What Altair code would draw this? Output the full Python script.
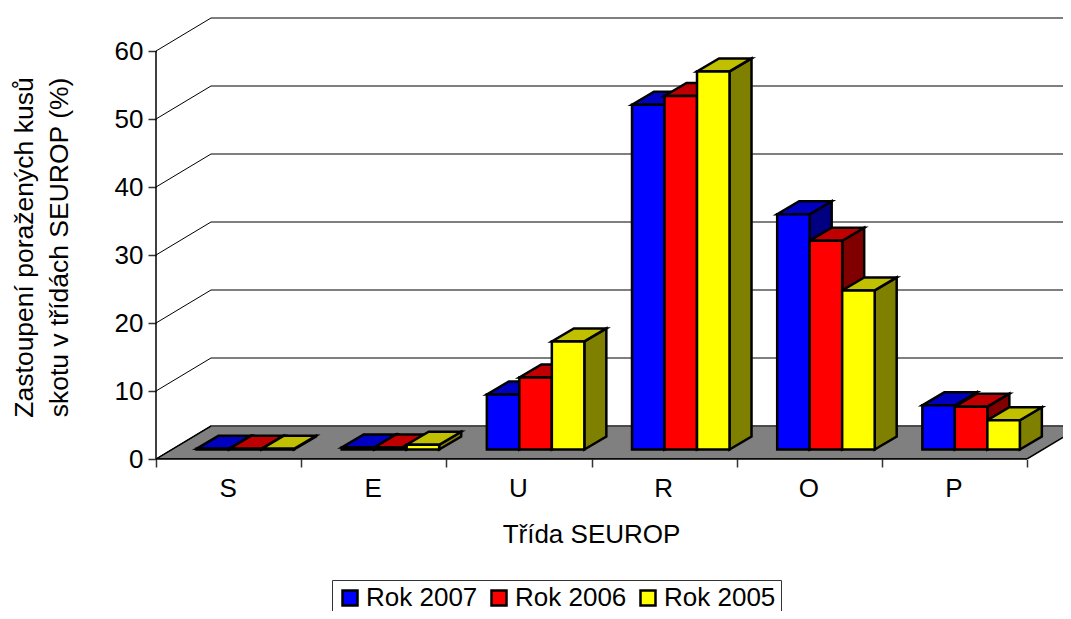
import altair as alt
import pandas as pd

categories = ["S", "E", "U", "R", "O", "P"]
series = ["Rok 2007", "Rok 2006", "Rok 2005"]
rok_2007 = [0.1, 0.3, 8.1, 50.7, 34.6, 6.5]
rok_2006 = [0.1, 0.3, 10.6, 52.0, 30.7, 6.3]
rok_2005 = [0.1, 0.7, 15.9, 55.6, 23.4, 4.3]
front_colors = ["#0000ff", "#ff0000", "#ffff00"]
top_colors = ["#0000c0", "#c00000", "#c0c000"]
side_colors = ["#000080", "#800000", "#808000"]
y_ticks = [0, 10, 20, 30, 40, 50, 60]

# projection, in scale units
PX_X = 145.17
PX_Y = 6.8
WIDTH, HEIGHT = 907, 442
XMAX = WIDTH / PX_X
YMAX = HEIGHT / PX_Y
WALL_DX, WALL_DY = 55 / PX_X, 33 / PX_Y
BAR_START, BAR_W = 40.5 / PX_X, 32.5 / PX_X
BAR_DX, BAR_DY = 22 / PX_X, 13 / PX_Y
BASE = 9.5 / PX_Y
FONT = "Liberation Sans"
FS = 26

fronts, tops, sides = [], [], []
for s, (name, vals) in enumerate(zip(series, [rok_2007, rok_2006, rok_2005])):
    for c, v in enumerate(vals):
        x0 = c + BAR_START + s * BAR_W
        x1 = x0 + BAR_W
        top = BASE + v
        fronts.append(dict(series=name, x0=x0, x1=x1, y0=BASE, y1=top))
        fid = f"{s}-{c}"
        for x, lo, hi in [
            (x0, top, top),
            (x0 + BAR_DX, top, top + BAR_DY),
            (x1, top, top + BAR_DY),
            (x1 + BAR_DX, top + BAR_DY, top + BAR_DY),
        ]:
            tops.append(dict(id=fid, x=x, lo=lo, hi=hi, color=top_colors[s]))
        for x, lo, hi in [
            (x1, BASE, top),
            (x1 + BAR_DX, BASE + BAR_DY, top + BAR_DY),
        ]:
            sides.append(dict(id=fid, x=x, lo=lo, hi=hi, color=side_colors[s]))

floor = pd.DataFrame(
    [
        dict(x=0, lo=0, hi=0),
        dict(x=WALL_DX, lo=0, hi=WALL_DY),
        dict(x=6, lo=0, hi=WALL_DY),
        dict(x=6 + WALL_DX, lo=WALL_DY, hi=WALL_DY),
    ]
)
slants, rears = [], []
for t in y_ticks:
    slants += [dict(t=t, x=0, y=t), dict(t=t, x=WALL_DX, y=t + WALL_DY)]
    rears += [dict(t=t, x=WALL_DX, y=t + WALL_DY), dict(t=t, x=XMAX, y=t + WALL_DY)]

x_scale = alt.Scale(domain=[0, XMAX], nice=False, zero=False)
y_scale = alt.Scale(domain=[0, YMAX], nice=False, zero=False)
X = alt.X("x:Q", scale=x_scale, axis=None)
Y = alt.Y("lo:Q", scale=y_scale, axis=None)
Y2 = alt.Y2("hi:Q")

x_axis = alt.Axis(
    values=list(range(7)),
    labelExpr="['S','E','U','R','O','P',''][datum.value]",
    labelOffset=PX_X / 2 - 1,
    labelFlush=False,
    labelOverlap=False,
    labelFont=FONT,
    labelFontSize=FS,
    labelColor="#000000",
    labelPadding=8,
    domain=False,
    grid=False,
    tickColor="#333333",
    tickWidth=1.5,
    tickSize=8,
    title="Třída SEUROP",
    titleFont=FONT,
    titleFontSize=FS,
    titleFontWeight="normal",
    titleColor="#000000",
    titleX=435,
    titleY=83,
    titleBaseline="alphabetic",
    titleAlign="center",
)
y_axis = alt.Axis(
    values=y_ticks,
    labelFont=FONT,
    labelFontSize=FS,
    labelColor="#000000",
    labelPadding=5,
    domain=False,
    grid=False,
    tickColor="#333333",
    tickWidth=1.5,
    tickSize=8,
    title=["Zastoupení poražených kusů", "skotu v třídách SEUROP (%)"],
    titleFont=FONT,
    titleFontSize=26.5,
    titleFontWeight="normal",
    titleColor="#000000",
    titleLineHeight=35,
    titleX=-124,
    titleY=230,
    titleBaseline="alphabetic",
    titleAlign="center",
    titleAngle=-90,
)

axes_layer = (
    alt.Chart(pd.DataFrame({"x": [0], "x2": [6], "y": [0], "y2": [60]}))
    .mark_rule(opacity=0)
    .encode(
        x=alt.X("x:Q", scale=x_scale, axis=x_axis),
        y=alt.Y("y:Q", scale=y_scale, axis=y_axis),
    )
)
floor_layer = (
    alt.Chart(floor)
    .mark_area(fill="#808080", stroke="#000000", strokeWidth=1.5, clip=True)
    .encode(x=X, y=Y, y2=Y2)
)
rear_layer = (
    alt.Chart(pd.DataFrame(rears))
    .mark_line(color="#555555", strokeWidth=1.5)
    .encode(x=X, y=alt.Y("y:Q", scale=y_scale, axis=None), detail="t:N")
)
slant_layer = (
    alt.Chart(pd.DataFrame(slants))
    .mark_line(color="#000000", strokeWidth=1)
    .encode(x=X, y=alt.Y("y:Q", scale=y_scale, axis=None), detail="t:N")
)
y_line = (
    alt.Chart(pd.DataFrame({"x": [0], "y": [0], "y2": [60]}))
    .mark_rule(color="#000000", strokeWidth=1.5)
    .encode(x=X, y=alt.Y("y:Q", scale=y_scale, axis=None), y2="y2:Q")
)
x_line = (
    alt.Chart(pd.DataFrame({"x": [0], "x2": [6], "y": [0]}))
    .mark_rule(color="#000000", strokeWidth=1.5)
    .encode(x=X, x2="x2:Q", y=alt.Y("y:Q", scale=y_scale, axis=None))
)
side_layer = (
    alt.Chart(pd.DataFrame(sides))
    .mark_area(stroke="#000000", strokeWidth=2.5, strokeJoin="miter")
    .encode(x=X, y=Y, y2=Y2, detail="id:N", fill=alt.Fill("color:N", scale=None))
)
top_layer = (
    alt.Chart(pd.DataFrame(tops))
    .mark_area(stroke="#000000", strokeWidth=2.5, strokeJoin="miter")
    .encode(x=X, y=Y, y2=Y2, detail="id:N", fill=alt.Fill("color:N", scale=None))
)
front_layer = (
    alt.Chart(pd.DataFrame(fronts))
    .mark_rect(stroke="#000000", strokeWidth=2.5)
    .encode(
        x=alt.X("x0:Q", scale=x_scale, axis=None),
        x2="x1:Q",
        y=alt.Y("y0:Q", scale=y_scale, axis=None),
        y2="y1:Q",
        fill=alt.Fill(
            "series:N",
            scale=alt.Scale(domain=series, range=front_colors),
            legend=alt.Legend(
                title=None,
                orient="none",
                legendX=176,
                legendY=563,
                direction="horizontal",
                columns=3,
                columnPadding=8,
                symbolType="square",
                symbolSize=225,
                symbolStrokeColor="#000000",
                symbolStrokeWidth=2.5,
                symbolOpacity=1,
                labelFont=FONT,
                labelFontSize=FS,
                labelColor="#000000",
                labelOffset=3,
                padding=5,
                strokeColor="#333333",
                fillColor="#ffffff",
            ),
        ),
    )
)

chart = (
    alt.layer(
        floor_layer, axes_layer, rear_layer, slant_layer, y_line, x_line,
        side_layer, top_layer, front_layer,
    )
    .resolve_scale(fill="independent")
    .resolve_axis(x="independent", y="independent")
    .properties(
        width=WIDTH,
        height=HEIGHT,
        autosize=alt.AutoSizeParams(type="none"),
        padding={"left": 148, "top": 9, "right": 0, "bottom": 152},
    )
    .configure_view(stroke=None)
)

chart.save("out.html", embed_options={"renderer": "svg", "actions": False})
